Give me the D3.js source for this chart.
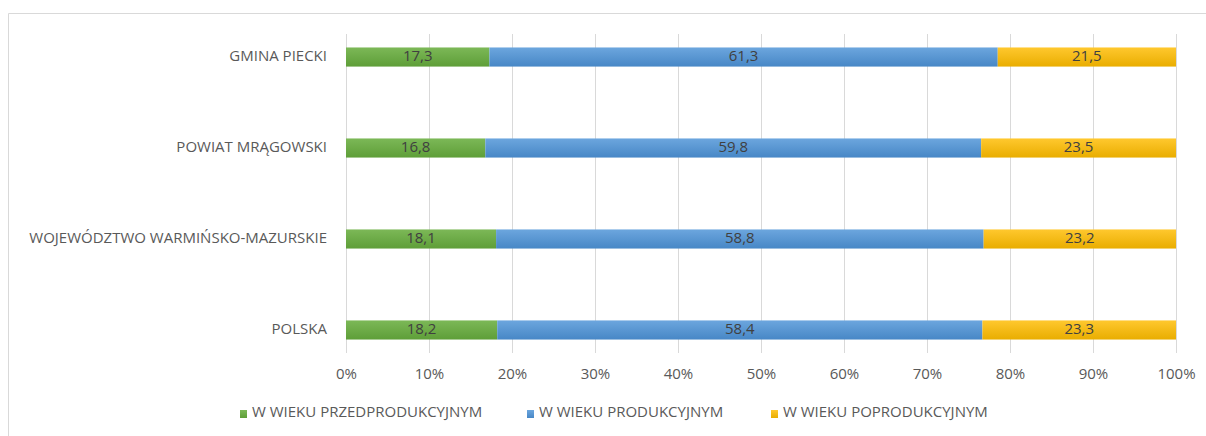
<!DOCTYPE html>
<html><head><meta charset="utf-8">
<script src="https://cdn.jsdelivr.net/npm/d3@7"></script>
<style>body{margin:0;background:#fff}svg{display:block}text{font-family:"Open Sans",sans-serif}</style>
</head><body><svg id="c" width="1206" height="436"></svg>
<script>
const categories = ["GMINA PIECKI","POWIAT MRĄGOWSKI","WOJEWÓDZTWO WARMIŃSKO-MAZURSKIE","POLSKA"];
const seriesNames = ["W WIEKU PRZEDPRODUKCYJNYM","W WIEKU PRODUKCYJNYM","W WIEKU POPRODUKCYJNYM"];
const przed = [17.3,16.8,18.1,18.2];
const prod = [61.3,59.8,58.8,58.4];
const popr = [21.5,23.5,23.2,23.3];
const ticks = [0,0.1,0.2,0.3,0.4,0.5,0.6,0.7,0.8,0.9,1];
const colors = [["#7cb857","#5e9e38"],["#6ca6de","#4787c6"],["#ffc82e","#e9ad00"]];
const legendX = [240,527,771];

const svg = d3.select("#c");
const defs = svg.append("defs");
colors.forEach((c,i)=>{
  const g = defs.append("linearGradient").attr("id","g"+i).attr("x1",0).attr("y1",0).attr("x2",0).attr("y2",1);
  g.append("stop").attr("offset","0%").attr("stop-color",c[0]);
  g.append("stop").attr("offset","100%").attr("stop-color",c[1]);
});
svg.append("path").attr("d","M1206.5,13.5H8.5V436").attr("fill","none").attr("stroke","#d9d9d9");

const x = d3.scaleLinear().domain([0,1]).range([346,1176]);
const y = d3.scaleBand().domain(categories).range([34,353]).paddingInner(0.79).paddingOuter(0.148);

const fs = "15px";
const xAxis = d3.axisBottom(x).tickValues(ticks).tickFormat(d3.format(".0%")).tickSize(0);
const gx = svg.append("g").attr("transform","translate(0,353)").call(xAxis);
gx.select(".domain").remove();
gx.selectAll("text").attr("dy",0).attr("y",22).attr("font-size",fs).attr("font-family","Open Sans").attr("fill","#595959").attr("dominant-baseline","middle");

svg.append("g").selectAll("line").data(ticks).join("line")
  .attr("x1",d=>Math.round(x(d))+0.5).attr("x2",d=>Math.round(x(d))+0.5)
  .attr("y1",34).attr("y2",353).attr("stroke","#d9d9d9");

const yAxis = d3.axisLeft(y).tickSize(0);
const gy = svg.append("g").attr("transform","translate(327,0)").call(yAxis);
gy.select(".domain").remove();
gy.selectAll("text").attr("x",0).attr("font-size",fs).attr("font-family","Open Sans").attr("fill","#595959").attr("dominant-baseline","middle").attr("dy",0);

const rows = categories.map((c,i)=>{
  const vals=[przed[i],prod[i],popr[i]];
  const tot=d3.sum(vals);
  let acc=0;
  return vals.map((v,j)=>{const s={cat:c,j,v,x0:acc/tot,x1:(acc+v)/tot};acc+=v;return s;});
}).flat();

svg.append("g").selectAll("rect").data(rows).join("rect")
  .attr("x",d=>x(d.x0)).attr("width",d=>x(d.x1)-x(d.x0))
  .attr("y",d=>y(d.cat)).attr("height",y.bandwidth())
  .attr("fill",d=>`url(#g${d.j})`);

svg.append("g").selectAll("text").data(rows).join("text")
  .attr("x",d=>(x(d.x0)+x(d.x1))/2).attr("y",d=>y(d.cat)+y.bandwidth()/2)
  .attr("text-anchor","middle").attr("dominant-baseline","middle")
  .attr("font-size",fs).attr("fill","#404040")
  .text(d=>d3.format(".1f")(d.v).replace(".",","));

const lg = svg.append("g").selectAll("g").data(seriesNames).join("g")
  .attr("transform",(d,i)=>`translate(${legendX[i]},409)`);
lg.append("rect").attr("width",7).attr("height",8).attr("y",1).attr("fill",(d,i)=>`url(#g${i})`);
lg.append("text").attr("x",12).attr("y",4).attr("dominant-baseline","middle")
  .attr("font-size",fs).attr("fill","#595959").text(d=>d);
</script></body></html>
